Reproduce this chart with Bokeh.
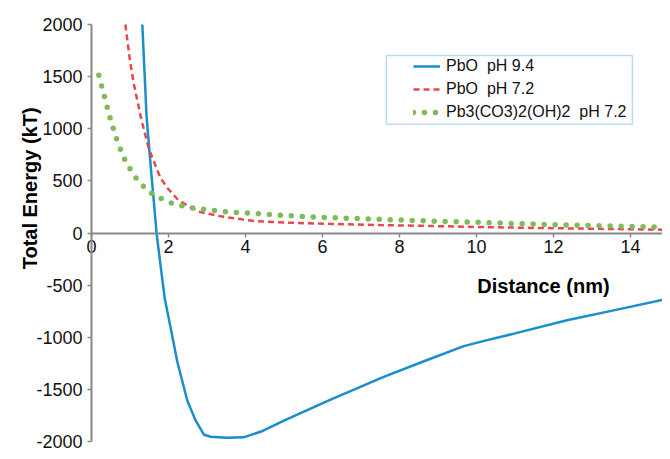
from bokeh.plotting import figure
from bokeh.models import (FixedTicker, Legend, LegendItem, BoxAnnotation, Label, Range1d)
from bokeh.embed import file_html
from bokeh.resources import INLINE
import math

# ---- data ----
blue_x = [1.32, 1.43, 1.55, 1.69, 1.80, 1.90, 2.05, 2.23, 2.49, 2.70, 2.92, 3.10, 3.50, 3.95,
          4.39, 5.00, 6.12, 7.59, 8.60, 9.67, 10.20, 11.00, 12.35, 13.50, 15.00]
blue_y = [2000, 1116, 590, 0, -330, -623, -900, -1237, -1609, -1795, -1935, -1955, -1965, -1960,
          -1907, -1800, -1612, -1380, -1235, -1085, -1035, -963, -837, -747, -628]

red_x = [0.88, 1.00, 1.10, 1.30, 1.49, 1.79, 2.00, 2.23, 2.50, 2.83, 3.35, 4.22, 5.00, 6.21,
         7.50, 8.70, 10.00, 12.00, 14.00, 15.00]
red_y = [2000, 1650, 1430, 1080, 807, 527, 420, 326, 260, 200, 160, 115, 100, 87,
         76, 68, 58, 46, 36, 31]

green_x = [0.19, 0.33, 0.47, 0.63, 0.82, 1.09, 1.46, 1.95, 2.50, 3.35, 4.48, 5.61, 6.74,
           8.74, 10.00, 11.58, 13.00, 15.00]
green_y = [1513, 1318, 1119, 924, 735, 555, 403, 301, 246, 208, 180, 155, 140,
           115, 103, 84, 70, 56]

series_names = ["PbO  pH 9.4", "PbO  pH 7.2", "Pb3(CO3)2(OH)2  pH 7.2"]

x_ticks = [0, 2, 4, 6, 8, 10, 12, 14]
x_tick_labels = ["0", "2", "4", "6", "8", "10", "12", "14"]
y_ticks = [-2000, -1500, -1000, -500, 0, 500, 1000, 1500, 2000]
y_tick_labels = ["-2000", "-1500", "-1000", "-500", "0", "500", "1000", "1500", "2000"]

x_title = "Distance (nm)"
y_title = "Total Energy (kT)"

BLUE = "#1a8dcd"
RED = "#e8474c"
GREEN = "#80bb5b"
AXIS = "#888888"
FONT = "Liberation Sans"

W, H = 662, 451
# the frame covers the whole canvas; axes sit at x=0 / y=0
X0_PX, X_SCALE = 91.0, 38.5        # px of x=0, px per nm
Y0_PX, Y_SCALE = 232.5, 0.10425    # px of y=0, px per kT

p = figure(width=W, height=H, output_backend="svg", toolbar_location=None,
           x_range=Range1d(-X0_PX / X_SCALE, (W - X0_PX) / X_SCALE),
           y_range=Range1d(-(H - Y0_PX) / Y_SCALE, Y0_PX / Y_SCALE),
           min_border_left=0, min_border_right=0, min_border_top=0, min_border_bottom=0)
p.outline_line_color = None
p.xgrid.visible = False
p.ygrid.visible = False
p.background_fill_color = "white"
p.border_fill_color = "white"

# axes
xa = p.xaxis[0]
xa.fixed_location = 0
xa.bounds = (0, 15)
xa.ticker = FixedTicker(ticks=x_ticks)
xa.major_label_overrides = dict(zip(x_ticks, x_tick_labels))
xa.minor_tick_line_color = None
xa.axis_line_color = AXIS
xa.axis_line_width = 2
xa.major_tick_line_color = AXIS
xa.major_tick_line_width = 1.5
xa.major_tick_in = 0
xa.major_tick_out = 4
xa.major_label_standoff = 3
xa.major_label_text_font = FONT
xa.major_label_text_font_size = "18px"
xa.major_label_text_color = "#111111"

ya = p.yaxis[0]
ya.fixed_location = 0
ya.bounds = (-2000, 2000)
ya.ticker = FixedTicker(ticks=y_ticks)
ya.major_label_overrides = dict(zip(y_ticks, y_tick_labels))
ya.minor_tick_line_color = None
ya.axis_line_color = AXIS
ya.axis_line_width = 2
ya.major_tick_line_color = AXIS
ya.major_tick_line_width = 1.5
ya.major_tick_in = 0
ya.major_tick_out = 4
ya.major_label_standoff = 5
ya.major_label_text_font = FONT
ya.major_label_text_font_size = "18px"
ya.major_label_text_color = "#111111"

# curves
r_blue = p.line(blue_x, blue_y, line_color=BLUE, line_width=2.5)
r_red = p.line(red_x, red_y, line_color=RED, line_width=2.5, line_dash="6 4")
r_green = p.line(green_x, green_y, line_color=GREEN, line_width=5.5,
                 line_dash="0 11", line_cap="round")

# legend frame
box = BoxAnnotation(left=7.66, right=14.05, bottom=1042, top=1702,
                    fill_color=None, fill_alpha=0, line_color=BLUE, line_width=1.5)
p.add_layout(box)

legend = Legend(items=[LegendItem(label=series_names[0], renderers=[r_blue]),
                       LegendItem(label=series_names[1], renderers=[r_red]),
                       LegendItem(label=series_names[2], renderers=[r_green])],
                location=(413, 329), padding=0, margin=0, spacing=3,
                glyph_width=27, glyph_height=20, label_height=20, label_standoff=6,
                border_line_alpha=0, background_fill_alpha=0,
                label_text_font=FONT, label_text_font_size="16px",
                label_text_color="#111111")
p.add_layout(legend, "center")

# axis titles
p.add_layout(Label(x=11.74, y=-512, text=x_title, text_align="center",
                   text_baseline="alphabetic", text_font=FONT, text_font_style="bold",
                   text_font_size="20px", text_color="#000000"))
p.add_layout(Label(x=-1.61, y=428, text=y_title, text_align="center", angle=math.pi / 2,
                   text_baseline="alphabetic", text_font=FONT, text_font_style="bold",
                   text_font_size="20px", text_color="#000000"))

open("out.html", "w").write(file_html(p, INLINE))
